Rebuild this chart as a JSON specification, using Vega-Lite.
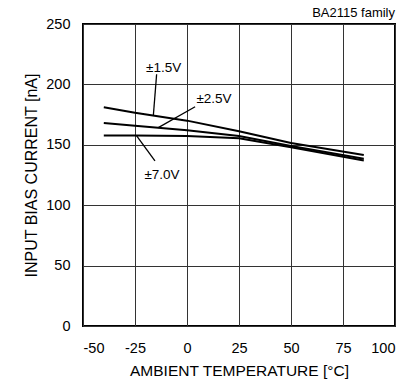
{
  "$schema": "https://vega.github.io/schema/vega-lite/v6.json",
  "autosize": {"type": "none"},
  "width": 312,
  "height": 302,
  "padding": {"left": 83, "top": 24, "right": 20, "bottom": 57},
  "background": "white",
  "config": {
    "font": "Liberation Sans",
    "view": {"stroke": "black", "strokeWidth": 2},
    "axis": {
      "grid": true,
      "gridColor": "#333333",
      "gridWidth": 1,
      "gridOpacity": 1,
      "domain": false,
      "ticks": false,
      "labelFont": "Liberation Sans",
      "labelFontSize": 14.5,
      "labelColor": "black",
      "titleFont": "Liberation Sans",
      "titleFontSize": 15.5,
      "titleFontWeight": "normal",
      "titleColor": "black"
    }
  },
  "title": {"text": "BA2115 family", "anchor": "end", "fontSize": 13, "fontWeight": "normal", "font": "Liberation Sans", "color": "black", "offset": -4},
  "layer": [
    {
      "data": {"values": [
        {"t": -40, "i": 181, "s": "1.5"}, {"t": -25, "i": 176.5, "s": "1.5"}, {"t": 0, "i": 170, "s": "1.5"}, {"t": 25, "i": 161.2, "s": "1.5"}, {"t": 50, "i": 151.5, "s": "1.5"}, {"t": 85, "i": 141.5, "s": "1.5"},
        {"t": -40, "i": 168, "s": "2.5"}, {"t": -25, "i": 165.8, "s": "2.5"}, {"t": 0, "i": 162, "s": "2.5"}, {"t": 25, "i": 157.3, "s": "2.5"}, {"t": 50, "i": 149, "s": "2.5"}, {"t": 85, "i": 138.5, "s": "2.5"},
        {"t": -40, "i": 157.8, "s": "7.0"}, {"t": -25, "i": 157.8, "s": "7.0"}, {"t": 0, "i": 157.3, "s": "7.0"}, {"t": 25, "i": 155.4, "s": "7.0"}, {"t": 50, "i": 148, "s": "7.0"}, {"t": 85, "i": 137, "s": "7.0"}
      ]},
      "mark": {"type": "line", "color": "black", "strokeWidth": 2},
      "encoding": {
        "x": {"field": "t", "type": "quantitative", "scale": {"domain": [-50, 100], "nice": false}, "axis": {"values": [-50, -25, 0, 25, 50, 75, 100], "labelExpr": "'' + datum.value", "title": "AMBIENT TEMPERATURE [°C]", "labelPadding": 15, "titlePadding": 9}},
        "y": {"field": "i", "type": "quantitative", "scale": {"domain": [0, 250], "nice": false}, "axis": {"values": [0, 50, 100, 150, 200, 250], "title": "INPUT BIAS CURRENT [nA]", "titleFontSize": 16, "labelPadding": 13, "titlePadding": 6}},
        "detail": {"field": "s"}
      }
    },
    {
      "data": {"values": [
        {"x1": -14.6, "y1": 208.4, "x2": -16.2, "y2": 173.8},
        {"x1": 3.9, "y1": 181.5, "x2": -13.8, "y2": 164.2},
        {"x1": -24.2, "y1": 157.3, "x2": -15.4, "y2": 136.6}
      ]},
      "mark": {"type": "rule", "color": "black", "strokeWidth": 1.3},
      "encoding": {
        "x": {"field": "x1", "type": "quantitative"},
        "y": {"field": "y1", "type": "quantitative"},
        "x2": {"field": "x2"},
        "y2": {"field": "y2"}
      }
    },
    {
      "data": {"values": [
        {"x": -11.2, "y": 213.5, "label": "±1.5V"},
        {"x": 13, "y": 187.7, "label": "±2.5V"},
        {"x": -12, "y": 125, "label": "±7.0V"}
      ]},
      "mark": {"type": "text", "fontSize": 13.5, "font": "Liberation Sans", "color": "black", "align": "center", "baseline": "middle"},
      "encoding": {
        "x": {"field": "x", "type": "quantitative"},
        "y": {"field": "y", "type": "quantitative"},
        "text": {"field": "label"}
      }
    }
  ]
}
